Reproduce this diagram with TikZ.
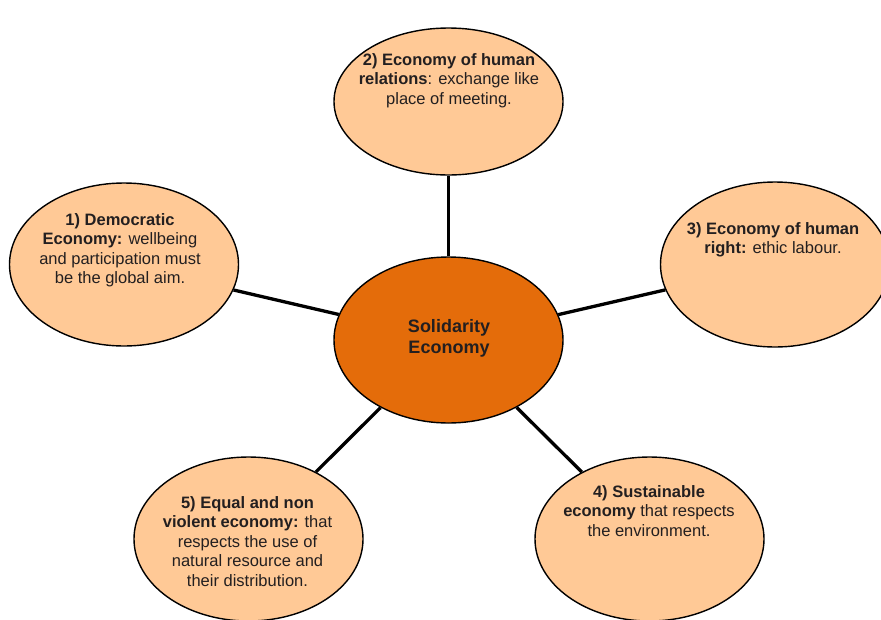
\documentclass[tikz,border=0pt]{standalone}
\usepackage{fontspec}
\setmainfont{Liberation Sans}
\usetikzlibrary{shapes.geometric}
\definecolor{outerfill}{RGB}{255,201,150}
\definecolor{centerfill}{RGB}{228,108,10}
\definecolor{txt}{RGB}{35,31,32}
\begin{document}
\begin{tikzpicture}[x=1pt,y=-1pt,
  bubble/.style={ellipse, draw=black, line width=1.4pt, fill=outerfill, minimum width=229pt, minimum height=164pt, inner sep=0pt},
  hub/.style={bubble, fill=centerfill, minimum height=166pt},
  link/.style={line width=3.3pt, draw=black},
  bubtext/.style={align=center, anchor=north, inner sep=0pt, font=\fontsize{16.5}{19.5}\selectfont, text=txt},
  hubtext/.style={bubtext, font=\fontsize{18}{21}\selectfont\bfseries}
]
\useasboundingbox (0,0) rectangle (881,619);
\clip (0,0) rectangle (881,619);
\node[hub] (hub) at (448.5,340) {};
\node[bubble, minimum height=147pt] (b2) at (448.5,101.5) {};
\node[bubble, minimum height=163pt] (b1) at (124,264.5) {};
\node[bubble, minimum height=165pt] (b3) at (775,264.5) {};
\node[bubble] (b5) at (248.5,539) {};
\node[bubble] (b4) at (649.5,539) {};
\draw[link] (hub) -- (b2);
\draw[link] (hub) -- (b1);
\draw[link] (hub) -- (b3);
\draw[link] (hub) -- (b5);
\draw[link] (hub) -- (b4);
\node[hubtext] (tc) at (449,319) {Solidarity\\Economy};
\node[bubtext] (t1) at (120,213) {\textbf{1) Democratic}\\\textbf{Economy:} wellbeing\\and participation must\\be the global aim.};
\node[bubtext] (t2) at (449,53) {\textbf{2) Economy of human}\\\textbf{relations}: exchange like\\place of meeting.};
\node[bubtext] (t3) at (773,222) {\textbf{3) Economy of human}\\\textbf{right:} ethic labour.};
\node[bubtext] (t4) at (649,485) {\textbf{4) Sustainable}\\\textbf{economy} that respects\\the environment.};
\node[bubtext] (t5) at (247.5,496) {\textbf{5) Equal and non}\\\textbf{violent economy:} that\\respects the use of\\natural resource and\\their distribution.};
\end{tikzpicture}
\end{document}
